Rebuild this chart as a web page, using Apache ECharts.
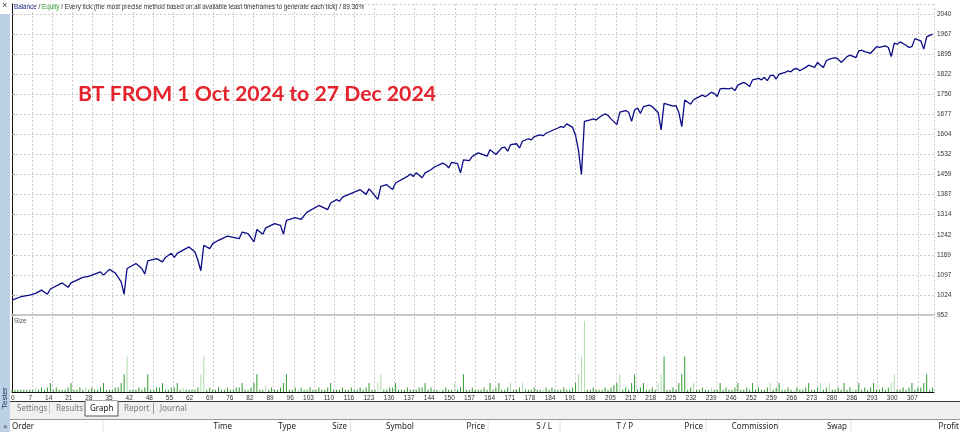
<!DOCTYPE html>
<html><head><meta charset="utf-8">
<script src="https://cdn.jsdelivr.net/npm/echarts@6/dist/echarts.min.js"></script>
<style>html,body{margin:0;padding:0;background:#fff}#c{width:960px;height:432px}</style>
</head><body><div id="c"></div>
<script>
// ---- data ----
const yLabels = ['952','1024','1097','1169','1242','1314','1387','1459','1532','1604','1677','1750','1822','1895','1967','2040'];
const xLabels = ['0','7','14','21','28','35','42','48','55','62','69','76','82','89','96','103','110','116','123','130','137','144','150','157','164','171','178','184','191','198','205','212','218','225','232','239','246','252','259','266','273','280','286','293','300','307'];
const tradesPerLabel = 6.822;
const yMin = 952, yStep = 72.533;

const balanceTrade = [0,3,4,6,8,10,12,13,17,19,20,24,26,30,31,33,35,37,38,39,42,44,45,46,49,51,52,54,55,56,60,62,63,64,65,67,68,70,73,77,78,80,
82,83,85,86,89,91,92,93,96,98,100,104,107,108,110,111,112,116,118,120,121,122,124,125,127,129,130,134,135,136,137,139,140,142,143,146,147,148,149,151,152,153,155,156,158,
161,162,164,166,167,168,169,171,172,173,175,176,177,179,180,181,185,186,187,188,190,191,192,193,194,196,197,198,199,200,201,202,203,205,206,208,209,210,211,212,213,214,216,217,219,220,221,223,224,225,226,227,228,230,231,232,
234,235,237,238,239,240,241,243,244,245,246,248,249,250,251,253,254,255,256,257,258,259,260,262,263,264,265,266,267,269,270,272,273,274,275,276,277,279,280,281,283,284,286,287,288,289,291,292,293,294,296,297,298,299,300,301,303,304,305,306,308,309,310,312];
const balanceValue = [1006,1018,1020,1024,1030,1042,1027,1046,1068,1052,1068,1088,1092,1108,1096,1117,1104,1072,1027,1120,1138,1120,1100,1148,1156,1144,1160,1175,1160,1175,1198,1180,1150,1112,1204,1192,1210,1222,1237,1228,1252,1246,
1216,1261,1244,1267,1282,1276,1244,1294,1304,1298,1324,1348,1333,1357,1369,1363,1378,1396,1405,1388,1408,1396,1370,1417,1423,1406,1429,1453,1462,1453,1466,1448,1466,1477,1486,1501,1495,1484,1504,1499,1466,1513,1510,1525,1538,
1526,1549,1532,1556,1559,1544,1568,1571,1556,1580,1589,1585,1597,1603,1600,1609,1628,1633,1630,1643,1630,1601,1546,1460,1652,1657,1661,1657,1666,1673,1679,1673,1661,1640,1685,1691,1685,1652,1693,1700,1681,1705,1711,1705,1684,1621,1717,1711,1707,1709,1684,1633,1729,1714,1730,1736,
1747,1741,1757,1753,1742,1769,1771,1769,1773,1763,1783,1793,1787,1778,1802,1807,1802,1811,1799,1817,1819,1805,1823,1829,1834,1831,1841,1843,1835,1847,1855,1847,1865,1855,1847,1871,1877,1882,1877,1865,1886,1891,1882,1907,1909,1904,1898,1910,1922,1919,1925,1919,1886,1935,1931,1939,1927,1919,1922,1951,1943,1913,1957,1967];

// lot size of each trade (index = trade number)
const tradeLots = [
.01,.01,.01,.01,.01,.01,.01,.01,.02,.01, .02,.01,.02,.04,.01,.02,.01,.01,.01,.02,
.04,.01,.01,.02,.01,.02,.01,.02,.01,.01, .02,.04,.01,.01,.01,.02,.02,.04,.08,.16,
.01,.01,.01,.02,.01,.02,.08,.01,.01,.02, .02,.04,.01,.01,.02,.02,.04,.01,.02,.01,
.01,.01,.01,.02,.08,.16,.01,.02,.01,.01, .02,.01,.01,.02,.01,.01,.02,.02,.04,.01,
.01,.02,.04,.08,.01,.01,.03,.01,.02,.01, .01,.02,.04,.08,.01,.01,.02,.01,.02,.01,
.01,.02,.01,.01,.02,.01,.01,.02,.04,.01, .01,.01,.02,.01,.01,.02,.01,.01,.02,.01,
.02,.04,.01,.01,.04,.08,.01,.01,.02,.02, .04,.01,.01,.01,.02,.01,.01,.01,.02,.02,
.04,.01,.02,.01,.01,.01,.01,.02,.01,.01, .04,.01,.02,.08,.01,.01,.02,.01,.01,.01,
.02,.01,.04,.01,.02,.04,.01,.01,.02,.04, .01,.01,.02,.04,.01,.01,.01,.02,.01,.01,
.01,.02,.01,.02,.01,.01,.01,.02,.01,.01, .02,.04,.08,.16,.32,.01,.01,.02,.01,.01,
.01,.02,.01,.02,.03,.04,.08,.01,.02,.01, .04,.08,.01,.02,.04,.01,.01,.02,.01,.04,
.08,.16,.01,.01,.02,.01,.04,.08,.16,.01, .02,.04,.01,.01,.02,.01,.01,.02,.01,.01,
.04,.01,.02,.01,.01,.02,.04,.01,.01,.02, .01,.04,.01,.02,.01,.01,.02,.04,.01,.02,
.04,.01,.01,.02,.01,.01,.02,.01,.01,.02, .04,.01,.01,.02,.04,.01,.02,.04,.01,.01,
.02,.01,.04,.01,.02,.01,.01,.04,.01,.02, .01,.02,.04,.01,.01,.02,.01,.02,.04,.08,
.01,.01,.02,.01,.02,.04,.01,.02,.02,.04, .08,.01,.02];
const lightTrades = [8,25,39,58,64,65,86,97,124,125,145,150,169,173,180,192,193,194,206,219,220,231,237,257,265,274,277,285,298,299];

const headerCols = ['Order','Time','Type','Size','Symbol','Price','S / L','T / P','Price','Commission','Swap','Profit'];
const tabNames = ['Settings','Results','Graph','Report','Journal'];

// ---- build ----
const L = 12, R = 934, T0 = 4, B0 = 315, T1 = 317, B1 = 392;
const labelMaxX = (R - L) / ((917.8 - L) / 45);
const xMax = labelMaxX * tradesPerLabel;
const labelMaxY = (B0 - T0) / ((B0 - 14) / 15);
const yMax = yMin + labelMaxY * yStep;

const linePts = balanceTrade.map((t, i) => [t, balanceValue[i]]);
const lightSet = new Set(lightTrades);
const darkBars = [], lightBars = [];
tradeLots.forEach((v, t) => (lightSet.has(t) ? lightBars : darkBars).push([t, v]));

const FONT = 'Liberation Sans';
const dotted = { show: true, lineStyle: { color: '#cccccc', type: [2, 2], width: 1 } };

const chart = echarts.init(document.getElementById('c'), null, { renderer: 'canvas' });

const g = [];
g.push({ type: 'rect', shape: { x: 0, y: 0, width: 10, height: 432 }, style: { fill: '#bcd0e6' }, z: 0 });
g.push({ type: 'rect', shape: { x: 0, y: 0, width: 10, height: 14 }, style: { fill: '#ffffff' }, z: 1 });
g.push({ type: 'text', x: 2, y: 1, style: { text: '×', fill: '#444', font: '9px ' + FONT }, z: 2 });
g.push({ type: 'text', x: 1, y: 409, rotation: Math.PI / 2, style: { text: 'Tester', fill: '#1c2f5a', font: '8px ' + FONT, textAlign: 'left', textVerticalAlign: 'top' }, z: 2 });
g.push({ type: 'rect', shape: { x: 10, y: 401, width: 950, height: 18 }, style: { fill: '#f0f0f0' }, z: 0 });
g.push({ type: 'line', shape: { x1: 10, y1: 401.5, x2: 960, y2: 401.5 }, style: { stroke: '#333', lineWidth: 1 }, z: 1 });
const tabX = [17, 56, 90, 124, 160];
g.push({ type: 'rect', shape: { x: 85, y: 401, width: 33, height: 15 }, style: { fill: '#ffffff', stroke: '#555', lineWidth: 1 }, z: 2 });
g.push({ type: 'line', shape: { x1: 85.5, y1: 401.5, x2: 117.5, y2: 401.5 }, style: { stroke: '#ffffff', lineWidth: 1 }, z: 3 });
tabNames.forEach((n, i) => {
  g.push({ type: 'text', x: tabX[i], y: 408.5, style: { text: n, fill: i === 2 ? '#111' : '#777', font: '8px "Noto Sans"', textVerticalAlign: 'middle' }, z: 4 });
  if (i > 0 && i !== 2 && i !== 3) g.push({ type: 'line', shape: { x1: tabX[i] - 6.5, y1: 403, x2: tabX[i] - 6.5, y2: 414 }, style: { stroke: '#c8c8c8' }, z: 2 });
});
g.push({ type: 'line', shape: { x1: 153.5, y1: 403, x2: 153.5, y2: 414 }, style: { stroke: '#999' }, z: 2 });
g.push({ type: 'rect', shape: { x: 10, y: 419, width: 950, height: 13 }, style: { fill: '#ffffff' }, z: 0 });
g.push({ type: 'line', shape: { x1: 10, y1: 419.5, x2: 960, y2: 419.5 }, style: { stroke: '#9a9a9a' }, z: 1 });
const headX = [12, 232, 296, 347, 400, 485, 552, 633, 703, 755, 847, 959];
const headAlign = ['left','right','right','right','center','right','right','right','right','center','right','right'];
headerCols.forEach((n, i) => g.push({ type: 'text', x: headX[i], y: 426.5, style: { text: n, fill: '#222', font: '8px "Noto Sans"', textAlign: headAlign[i], textVerticalAlign: 'middle' }, z: 2 }));
[103, 350.5, 488, 560, 706, 778, 851].forEach(x => g.push({ type: 'line', shape: { x1: x, y1: 420, x2: x, y2: 432 }, style: { stroke: '#e2e2e2' }, z: 1 }));
g.push({ type: 'text', x: 3, y: 426.5, style: { text: '×', fill: '#444', font: '8px ' + FONT, textVerticalAlign: 'middle' }, z: 2 });
g.push({ type: 'text', x: 14, y: 7.5, style: {
  text: '{b|Balance} / {e|Equity} / Every tick (the most precise method based on all available least timeframes to generate each tick) / 89.36%',
  rich: { b: { fill: '#1a2a8a', font: '6.3px ' + FONT }, e: { fill: '#2e9e2e', font: '6.3px ' + FONT } },
  fill: '#333', font: '6.3px ' + FONT, textVerticalAlign: 'middle' }, z: 5 });
g.push({ type: 'text', x: 14, y: 321, style: { text: 'Size', fill: '#555', font: '6.5px ' + FONT, textVerticalAlign: 'middle' }, z: 5 });
g.push({ type: 'text', x: 78, y: 94, style: { text: 'BT FROM 1 Oct 2024 to 27 Dec 2024', fill: '#e4232c', font: 'bold 21.2px Lato', textVerticalAlign: 'middle' }, z: 5 });

const option = {
  animation: false,
  backgroundColor: '#ffffff',
  grid: [
    { left: L, right: 960 - R, top: T0, height: B0 - T0 },
    { left: L, right: 960 - R, top: T1, height: B1 - T1 }
  ],
  xAxis: [
    { gridIndex: 0, type: 'value', min: 0, max: xMax, position: 'top', axisLine: { show: true, lineStyle: { color: '#a8a8a8' } }, axisTick: { show: false }, axisLabel: { show: false }, splitLine: { show: false } },
    { gridIndex: 0, type: 'value', min: 0, max: labelMaxX, interval: 1, position: 'bottom', axisLine: { show: true, onZero: false, lineStyle: { color: '#c8c8c8', width: 2 } }, axisTick: { show: false }, axisLabel: { show: false }, splitLine: dotted },
    { gridIndex: 1, type: 'value', min: 0, max: xMax, show: false },
    { gridIndex: 1, type: 'value', min: 0, max: labelMaxX, interval: 1, position: 'bottom',
      axisLine: { show: true, onZero: false, lineStyle: { color: '#111', width: 1 } }, axisTick: { show: false }, splitLine: dotted,
      axisLabel: { show: true, margin: 3, align: 'right', color: '#333', fontSize: 6.5, fontFamily: FONT, showMaxLabel: false,
        formatter: v => (v === 0 ? '{z|' + xLabels[0] + '}' : (xLabels[v] || '')),
        rich: { z: { width: 1, align: 'left', fontSize: 6.5, fontFamily: FONT, color: '#333' } } } }
  ],
  yAxis: [
    { gridIndex: 0, type: 'value', min: yMin, max: yMax, position: 'left', axisLine: { show: true, lineStyle: { color: '#a8a8a8' } }, axisTick: { show: false }, axisLabel: { show: false }, splitLine: { show: false } },
    { gridIndex: 0, type: 'value', min: 0, max: labelMaxY, interval: 1, position: 'right',
      axisLine: { show: true, lineStyle: { color: '#111' } }, axisTick: { show: true, length: 3, lineStyle: { color: '#999' } },
      axisLabel: { margin: 3, color: '#333', fontSize: 6.5, fontFamily: FONT, showMaxLabel: false, formatter: v => yLabels[v] || '' }, splitLine: dotted },
    { gridIndex: 1, type: 'value', min: 0, max: 0.338, position: 'left', axisLine: { show: true, lineStyle: { color: '#a8a8a8' } }, axisTick: { show: false }, axisLabel: { show: false }, splitLine: { show: false } },
    { gridIndex: 1, type: 'value', min: 0, max: 1, position: 'right', axisLine: { show: true, lineStyle: { color: '#111' } }, axisTick: { show: false }, axisLabel: { show: false }, splitLine: { show: false } }
  ],
  series: [
    { name: 'Balance', type: 'line', xAxisIndex: 0, yAxisIndex: 0, data: linePts, showSymbol: false, symbol: 'none',
      lineStyle: { color: '#0b0b86', width: 1.3 }, z: 5 },
    { name: 'SizeDark', type: 'bar', xAxisIndex: 2, yAxisIndex: 2, data: darkBars, barWidth: 1, barGap: '-100%', itemStyle: { color: '#2f9a2f' } },
    { name: 'SizeLight', type: 'bar', xAxisIndex: 2, yAxisIndex: 2, data: lightBars, barWidth: 1, barGap: '-100%', itemStyle: { color: '#a9dca9' } }
  ],
  graphic: g
};
chart.setOption(option);
</script></body></html>
